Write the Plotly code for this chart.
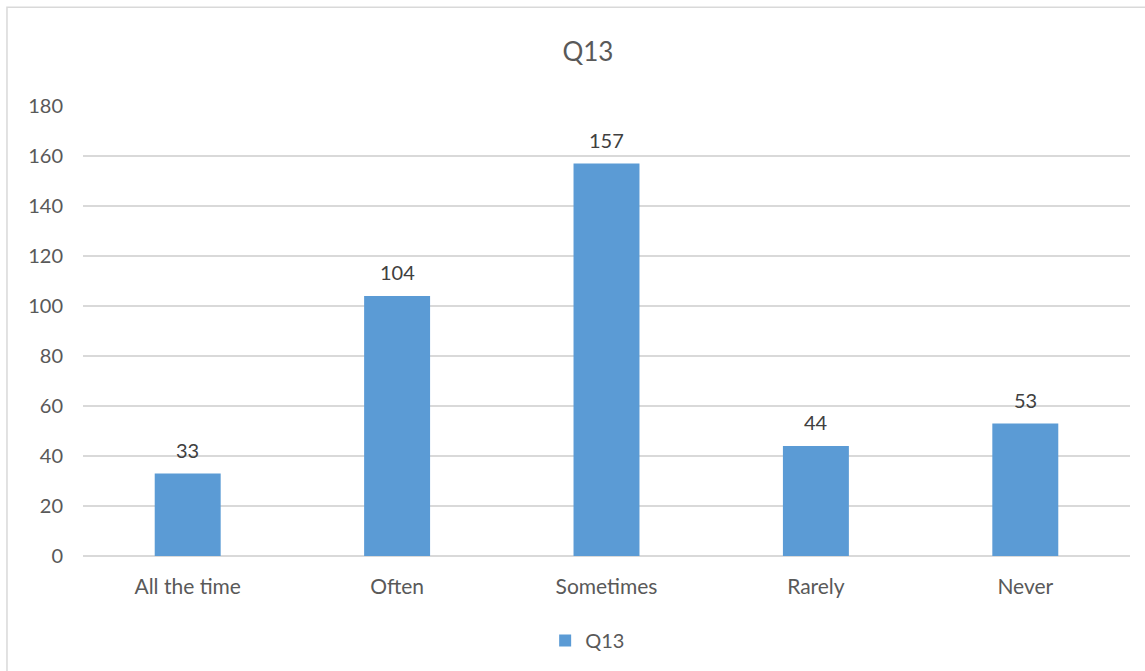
import plotly.graph_objects as go

categories = ["All the time", "Often", "Sometimes", "Rarely", "Never"]
values = [33, 104, 157, 44, 53]
series_name = "Q13"
y_ticks = [0, 20, 40, 60, 80, 100, 120, 140, 160, 180]

FONT = "Lato, 'Open Sans', sans-serif"

fig = go.Figure()
fig.add_trace(go.Bar(
    x=categories, y=values, name=series_name,
    marker=dict(color="#5B9BD5", line=dict(width=0)),
    showlegend=True,
))

for c, v in zip(categories, values):
    fig.add_annotation(x=c, y=v, text=str(v), showarrow=False,
                       yanchor="middle", yshift=24,
                       font=dict(size=20, color="#404040", family=FONT))

fig.update_layout(
    width=1145, height=671,
    margin=dict(l=83, r=15, t=106, b=114),
    paper_bgcolor="white", plot_bgcolor="white",
    bargap=0.685,
    title=dict(text="Q13", x=0.5135, xanchor="center", y=0.922, yanchor="middle",
               font=dict(size=26, color="#595959", family=FONT)),
    font=dict(family=FONT, color="#595959", size=20),
    xaxis=dict(showline=False, ticks="", showgrid=False,
               tickfont=dict(size=21, color="#595959"), ticklabelstandoff=16),
    yaxis=dict(range=[0, 180], tickvals=y_ticks, showgrid=True, gridcolor="#D9D9D9",
               gridwidth=1.5, zeroline=True, zerolinecolor="#D9D9D9", zerolinewidth=1.5,
               showline=False, ticks="", tickfont=dict(size=20, color="#595959"),
               ticklabelstandoff=19),
    legend=dict(orientation="h", x=0.482, xanchor="center", y=-0.185, yanchor="middle",
                font=dict(size=20, color="#595959"), itemwidth=30),
)

fig.add_shape(type="rect", xref="paper", yref="paper",
              x0=-0.0726, x1=1.03, y0=-0.3, y1=1.2195,
              line=dict(color="#D9D9D9", width=1.5), fillcolor="rgba(0,0,0,0)", layer="below")

fig.write_html("out.html")
